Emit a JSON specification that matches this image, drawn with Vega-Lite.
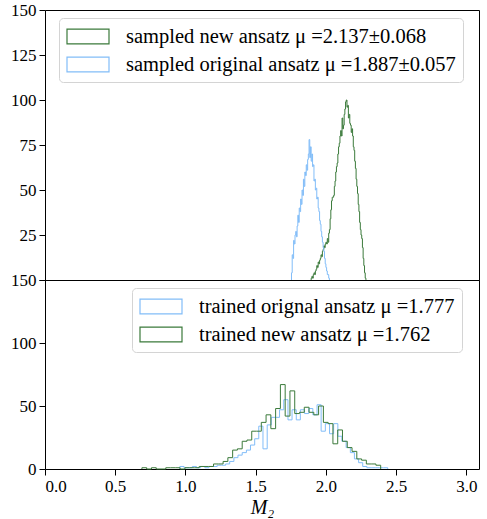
{
  "$schema": "https://vega.github.io/schema/vega-lite/v6.json",
  "padding": {"left": 10, "top": 0, "right": 6, "bottom": 2},
  "spacing": 0,
  "bounds": "flush",
  "config": {
    "font": "Liberation Serif",
    "view": {"stroke": "#000", "strokeWidth": 1},
    "axis": {"labelFont": "Liberation Serif", "labelFontSize": 17, "labelColor": "#000", "tickColor": "#000", "domainColor": "#000", "grid": false, "tickSize": 6, "labelPadding": 3, "titleFont": "Liberation Serif", "titleColor": "#000", "titleFontWeight": "normal"},
    "legend": {"labelFont": "Liberation Serif", "labelFontSize": 20.5, "labelLimit": 0, "labelColor": "#000", "strokeColor": "#d4d4d4", "fillColor": "#ffffff", "cornerRadius": 4, "padding": 7, "rowPadding": 6, "symbolType": "M-1,-0.71H3V0.71H-1Z", "symbolSize": 441, "symbolStrokeWidth": 1.2, "symbolFillColor": "#ffffff", "labelOffset": 37, "title": null, "orient": "none"}
  },
  "datasets": {
    "top": [
      {"g": "new", "x": 1.895, "n": 0},
      {"g": "new", "x": 1.895, "n": 1}, {"g": "new", "x": 1.900, "n": 2}, {"g": "new", "x": 1.905, "n": 1}, {"g": "new", "x": 1.910, "n": 3}, {"g": "new", "x": 1.915, "n": 4},
      {"g": "new", "x": 1.920, "n": 3}, {"g": "new", "x": 1.925, "n": 5}, {"g": "new", "x": 1.930, "n": 6}, {"g": "new", "x": 1.935, "n": 8}, {"g": "new", "x": 1.940, "n": 7},
      {"g": "new", "x": 1.945, "n": 10}, {"g": "new", "x": 1.950, "n": 9}, {"g": "new", "x": 1.955, "n": 11}, {"g": "new", "x": 1.960, "n": 12}, {"g": "new", "x": 1.965, "n": 14},
      {"g": "new", "x": 1.970, "n": 13}, {"g": "new", "x": 1.975, "n": 16}, {"g": "new", "x": 1.980, "n": 17}, {"g": "new", "x": 1.985, "n": 19}, {"g": "new", "x": 1.990, "n": 18},
      {"g": "new", "x": 1.995, "n": 20}, {"g": "new", "x": 2.000, "n": 21}, {"g": "new", "x": 2.005, "n": 20}, {"g": "new", "x": 2.010, "n": 23}, {"g": "new", "x": 2.015, "n": 21},
      {"g": "new", "x": 2.020, "n": 26}, {"g": "new", "x": 2.025, "n": 28}, {"g": "new", "x": 2.030, "n": 34}, {"g": "new", "x": 2.035, "n": 39}, {"g": "new", "x": 2.040, "n": 44},
      {"g": "new", "x": 2.045, "n": 46}, {"g": "new", "x": 2.050, "n": 46}, {"g": "new", "x": 2.055, "n": 47}, {"g": "new", "x": 2.060, "n": 52}, {"g": "new", "x": 2.065, "n": 55},
      {"g": "new", "x": 2.070, "n": 60}, {"g": "new", "x": 2.075, "n": 63}, {"g": "new", "x": 2.080, "n": 65}, {"g": "new", "x": 2.085, "n": 70}, {"g": "new", "x": 2.090, "n": 74},
      {"g": "new", "x": 2.095, "n": 76}, {"g": "new", "x": 2.100, "n": 80}, {"g": "new", "x": 2.105, "n": 83}, {"g": "new", "x": 2.110, "n": 80}, {"g": "new", "x": 2.115, "n": 90},
      {"g": "new", "x": 2.120, "n": 84}, {"g": "new", "x": 2.125, "n": 86}, {"g": "new", "x": 2.130, "n": 92}, {"g": "new", "x": 2.135, "n": 95}, {"g": "new", "x": 2.140, "n": 99},
      {"g": "new", "x": 2.145, "n": 100}, {"g": "new", "x": 2.150, "n": 96}, {"g": "new", "x": 2.155, "n": 97}, {"g": "new", "x": 2.160, "n": 90}, {"g": "new", "x": 2.165, "n": 92},
      {"g": "new", "x": 2.170, "n": 87}, {"g": "new", "x": 2.175, "n": 86}, {"g": "new", "x": 2.180, "n": 82}, {"g": "new", "x": 2.185, "n": 84}, {"g": "new", "x": 2.190, "n": 80},
      {"g": "new", "x": 2.195, "n": 74}, {"g": "new", "x": 2.200, "n": 72}, {"g": "new", "x": 2.205, "n": 66}, {"g": "new", "x": 2.210, "n": 62}, {"g": "new", "x": 2.215, "n": 56},
      {"g": "new", "x": 2.220, "n": 52}, {"g": "new", "x": 2.225, "n": 48}, {"g": "new", "x": 2.230, "n": 42}, {"g": "new", "x": 2.235, "n": 38}, {"g": "new", "x": 2.240, "n": 32},
      {"g": "new", "x": 2.245, "n": 28}, {"g": "new", "x": 2.250, "n": 25}, {"g": "new", "x": 2.255, "n": 23}, {"g": "new", "x": 2.260, "n": 18}, {"g": "new", "x": 2.265, "n": 12},
      {"g": "new", "x": 2.270, "n": 8}, {"g": "new", "x": 2.275, "n": 4}, {"g": "new", "x": 2.280, "n": 1}, {"g": "new", "x": 2.285, "n": 0},
      {"g": "orig", "x": 1.755, "n": 0},
      {"g": "orig", "x": 1.755, "n": 4}, {"g": "orig", "x": 1.760, "n": 14}, {"g": "orig", "x": 1.765, "n": 12}, {"g": "orig", "x": 1.770, "n": 22}, {"g": "orig", "x": 1.775, "n": 20},
      {"g": "orig", "x": 1.780, "n": 25}, {"g": "orig", "x": 1.785, "n": 27}, {"g": "orig", "x": 1.790, "n": 24}, {"g": "orig", "x": 1.795, "n": 30}, {"g": "orig", "x": 1.800, "n": 36},
      {"g": "orig", "x": 1.805, "n": 32}, {"g": "orig", "x": 1.810, "n": 40}, {"g": "orig", "x": 1.815, "n": 38}, {"g": "orig", "x": 1.820, "n": 45}, {"g": "orig", "x": 1.825, "n": 42},
      {"g": "orig", "x": 1.830, "n": 50}, {"g": "orig", "x": 1.835, "n": 47}, {"g": "orig", "x": 1.840, "n": 56}, {"g": "orig", "x": 1.845, "n": 52}, {"g": "orig", "x": 1.850, "n": 60},
      {"g": "orig", "x": 1.855, "n": 58}, {"g": "orig", "x": 1.860, "n": 64}, {"g": "orig", "x": 1.865, "n": 61}, {"g": "orig", "x": 1.870, "n": 67}, {"g": "orig", "x": 1.875, "n": 70},
      {"g": "orig", "x": 1.880, "n": 78}, {"g": "orig", "x": 1.885, "n": 68}, {"g": "orig", "x": 1.890, "n": 74}, {"g": "orig", "x": 1.895, "n": 66}, {"g": "orig", "x": 1.900, "n": 70},
      {"g": "orig", "x": 1.905, "n": 63}, {"g": "orig", "x": 1.910, "n": 64}, {"g": "orig", "x": 1.915, "n": 55}, {"g": "orig", "x": 1.920, "n": 56}, {"g": "orig", "x": 1.925, "n": 50},
      {"g": "orig", "x": 1.930, "n": 51}, {"g": "orig", "x": 1.935, "n": 45}, {"g": "orig", "x": 1.940, "n": 46}, {"g": "orig", "x": 1.945, "n": 40}, {"g": "orig", "x": 1.950, "n": 38},
      {"g": "orig", "x": 1.955, "n": 33}, {"g": "orig", "x": 1.960, "n": 31}, {"g": "orig", "x": 1.965, "n": 27}, {"g": "orig", "x": 1.970, "n": 24}, {"g": "orig", "x": 1.975, "n": 21},
      {"g": "orig", "x": 1.980, "n": 18}, {"g": "orig", "x": 1.985, "n": 16}, {"g": "orig", "x": 1.990, "n": 12}, {"g": "orig", "x": 1.995, "n": 9}, {"g": "orig", "x": 2.000, "n": 7},
      {"g": "orig", "x": 2.005, "n": 5}, {"g": "orig", "x": 2.010, "n": 3}, {"g": "orig", "x": 2.015, "n": 3}, {"g": "orig", "x": 2.020, "n": 1}, {"g": "orig", "x": 2.025, "n": 0}
    ],
    "bottom": [
      {"g": "orig", "x": 0.960, "n": 0},
      {"g": "orig", "x": 0.960, "n": 2}, {"g": "orig", "x": 0.990, "n": 1}, {"g": "orig", "x": 1.019, "n": 1}, {"g": "orig", "x": 1.049, "n": 2}, {"g": "orig", "x": 1.078, "n": 1},
      {"g": "orig", "x": 1.108, "n": 2}, {"g": "orig", "x": 1.138, "n": 1}, {"g": "orig", "x": 1.167, "n": 2}, {"g": "orig", "x": 1.197, "n": 2}, {"g": "orig", "x": 1.226, "n": 3},
      {"g": "orig", "x": 1.256, "n": 3}, {"g": "orig", "x": 1.286, "n": 4}, {"g": "orig", "x": 1.315, "n": 6}, {"g": "orig", "x": 1.345, "n": 9}, {"g": "orig", "x": 1.374, "n": 11},
      {"g": "orig", "x": 1.404, "n": 13}, {"g": "orig", "x": 1.434, "n": 15}, {"g": "orig", "x": 1.463, "n": 19}, {"g": "orig", "x": 1.493, "n": 24}, {"g": "orig", "x": 1.522, "n": 34},
      {"g": "orig", "x": 1.552, "n": 16}, {"g": "orig", "x": 1.582, "n": 35}, {"g": "orig", "x": 1.611, "n": 41}, {"g": "orig", "x": 1.641, "n": 41}, {"g": "orig", "x": 1.670, "n": 47},
      {"g": "orig", "x": 1.700, "n": 55}, {"g": "orig", "x": 1.730, "n": 39}, {"g": "orig", "x": 1.759, "n": 47}, {"g": "orig", "x": 1.789, "n": 39}, {"g": "orig", "x": 1.818, "n": 47},
      {"g": "orig", "x": 1.848, "n": 44}, {"g": "orig", "x": 1.878, "n": 48}, {"g": "orig", "x": 1.907, "n": 43}, {"g": "orig", "x": 1.937, "n": 51}, {"g": "orig", "x": 1.966, "n": 30},
      {"g": "orig", "x": 1.996, "n": 36}, {"g": "orig", "x": 2.026, "n": 28}, {"g": "orig", "x": 2.055, "n": 36}, {"g": "orig", "x": 2.085, "n": 26}, {"g": "orig", "x": 2.114, "n": 22},
      {"g": "orig", "x": 2.144, "n": 17}, {"g": "orig", "x": 2.174, "n": 13}, {"g": "orig", "x": 2.203, "n": 8}, {"g": "orig", "x": 2.233, "n": 5}, {"g": "orig", "x": 2.262, "n": 2},
      {"g": "orig", "x": 2.292, "n": 1}, {"g": "orig", "x": 2.322, "n": 1}, {"g": "orig", "x": 2.351, "n": 1}, {"g": "orig", "x": 2.381, "n": 1}, {"g": "orig", "x": 2.410, "n": 1},
      {"g": "orig", "x": 2.440, "n": 0},
      {"g": "new", "x": 0.690, "n": 0},
      {"g": "new", "x": 0.690, "n": 1}, {"g": "new", "x": 0.724, "n": 0}, {"g": "new", "x": 0.758, "n": 1}, {"g": "new", "x": 0.792, "n": 0}, {"g": "new", "x": 0.826, "n": 0},
      {"g": "new", "x": 0.860, "n": 1}, {"g": "new", "x": 0.894, "n": 1}, {"g": "new", "x": 0.928, "n": 1}, {"g": "new", "x": 0.962, "n": 0}, {"g": "new", "x": 0.996, "n": 1},
      {"g": "new", "x": 1.030, "n": 1}, {"g": "new", "x": 1.064, "n": 1}, {"g": "new", "x": 1.098, "n": 2}, {"g": "new", "x": 1.132, "n": 2}, {"g": "new", "x": 1.166, "n": 2},
      {"g": "new", "x": 1.200, "n": 4}, {"g": "new", "x": 1.234, "n": 4}, {"g": "new", "x": 1.268, "n": 6}, {"g": "new", "x": 1.302, "n": 9}, {"g": "new", "x": 1.336, "n": 15},
      {"g": "new", "x": 1.370, "n": 16}, {"g": "new", "x": 1.404, "n": 22}, {"g": "new", "x": 1.438, "n": 23}, {"g": "new", "x": 1.472, "n": 30}, {"g": "new", "x": 1.506, "n": 30},
      {"g": "new", "x": 1.540, "n": 37}, {"g": "new", "x": 1.574, "n": 43}, {"g": "new", "x": 1.608, "n": 32}, {"g": "new", "x": 1.642, "n": 48}, {"g": "new", "x": 1.676, "n": 67},
      {"g": "new", "x": 1.710, "n": 42}, {"g": "new", "x": 1.744, "n": 62}, {"g": "new", "x": 1.778, "n": 44}, {"g": "new", "x": 1.812, "n": 45}, {"g": "new", "x": 1.846, "n": 49},
      {"g": "new", "x": 1.880, "n": 45}, {"g": "new", "x": 1.914, "n": 43}, {"g": "new", "x": 1.948, "n": 50}, {"g": "new", "x": 1.982, "n": 37}, {"g": "new", "x": 2.016, "n": 36},
      {"g": "new", "x": 2.050, "n": 20}, {"g": "new", "x": 2.084, "n": 31}, {"g": "new", "x": 2.118, "n": 22}, {"g": "new", "x": 2.152, "n": 17}, {"g": "new", "x": 2.186, "n": 14},
      {"g": "new", "x": 2.220, "n": 8}, {"g": "new", "x": 2.254, "n": 7}, {"g": "new", "x": 2.288, "n": 4}, {"g": "new", "x": 2.322, "n": 4}, {"g": "new", "x": 2.356, "n": 3},
      {"g": "new", "x": 2.390, "n": 0}
    ]
  },
  "vconcat": [
    {
      "width": 434,
      "height": 270,
      "data": {"name": "top"},
      "encoding": {
        "x": {"field": "x", "type": "quantitative", "scale": {"domain": [0, 3.09], "nice": false, "zero": false}, "axis": null},
        "y": {"field": "n", "type": "quantitative", "scale": {"domain": [0, 150], "nice": false}, "axis": {"values": [0, 25, 50, 75, 100, 125, 150], "labelExpr": "datum.value === 0 ? '' : datum.label", "title": null, "domain": false}},
        "color": {"field": "g", "type": "nominal", "scale": {"domain": ["new", "orig"], "range": ["#3b7a3b", "#82bdf8"]},
          "legend": {"legendX": 14, "legendY": 8, "labelExpr": "datum.label === 'new' ? 'sampled new ansatz μ =2.137±0.068' : 'sampled original ansatz μ =1.887±0.057'"}},
        "order": [{"field": "x", "type": "quantitative"}, {"field": "n", "type": "quantitative"}]
      },
      "layer": [
        {"transform": [{"filter": "datum.g === 'new'"}], "mark": {"type": "line", "interpolate": "step-after", "strokeWidth": 1}},
        {"transform": [{"filter": "datum.g === 'orig'"}], "mark": {"type": "line", "interpolate": "step-after", "strokeWidth": 1}}
      ]
    },
    {
      "width": 434,
      "height": 189,
      "data": {"name": "bottom"},
      "encoding": {
        "x": {"field": "x", "type": "quantitative", "scale": {"domain": [0, 3.09], "nice": false, "zero": false}, "axis": {"values": [0, 0.5, 1, 1.5, 2, 2.5, 3], "format": ".1f", "title": "M₂", "titleFontSize": 20, "titleFontStyle": "italic", "titlePadding": 3, "domain": false}},
        "y": {"field": "n", "type": "quantitative", "scale": {"domain": [0, 150], "nice": false}, "axis": {"values": [0, 50, 100, 150], "title": null, "domain": false}},
        "color": {"field": "g", "type": "nominal", "scale": {"domain": ["orig", "new"], "range": ["#82bdf8", "#3b7a3b"]},
          "legend": {"legendX": 87, "legendY": 8, "labelExpr": "datum.label === 'new' ? 'trained new ansatz μ =1.762' : 'trained orignal ansatz μ =1.777'"}},
        "order": [{"field": "x", "type": "quantitative"}, {"field": "n", "type": "quantitative"}]
      },
      "layer": [
        {"transform": [{"filter": "datum.g === 'orig'"}], "mark": {"type": "line", "interpolate": "step-after", "strokeWidth": 1}},
        {"transform": [{"filter": "datum.g === 'new'"}], "mark": {"type": "line", "interpolate": "step-after", "strokeWidth": 1}}
      ]
    }
  ],
  "resolve": {"scale": {"color": "independent", "x": "shared"}}
}
